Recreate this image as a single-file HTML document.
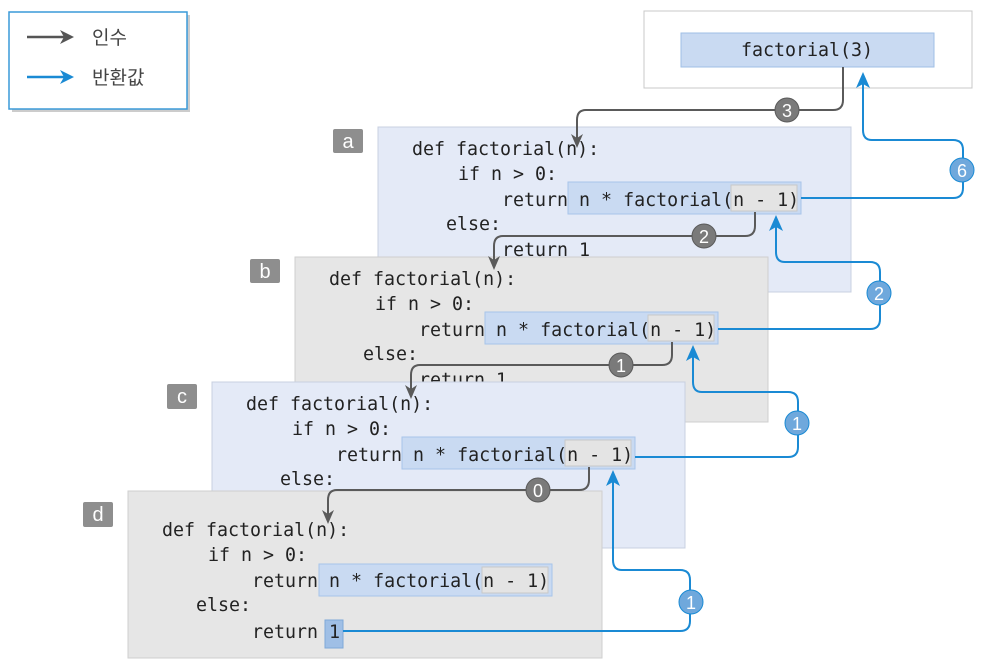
<!DOCTYPE html>
<html><head><meta charset="utf-8"><style>
body{margin:0;width:984px;height:664px;background:#fff;overflow:hidden}
svg text{font-family:"DejaVu Sans Mono","Liberation Mono",monospace;font-size:18.3px;fill:#222}
.k{font-family:"Liberation Sans","Noto Sans CJK KR",sans-serif;font-size:19px;fill:#444}
.lb{font-family:"Liberation Sans",sans-serif;font-size:20px;fill:#fff}
.bt{font-family:"Liberation Sans",sans-serif;font-size:18px;fill:#fff;text-anchor:middle}
</style></head><body>
<svg width="984" height="664" xmlns="http://www.w3.org/2000/svg">
<!-- legend -->
<rect x="12" y="15" width="178" height="97" fill="#ccc"/>
<rect x="9" y="12" width="178" height="97" fill="#fff" stroke="#3a9ad9" stroke-width="1.5"/>
<line x1="27" y1="37" x2="64" y2="37" stroke="#555" stroke-width="2.5"/>
<path d="M60,30 L74,37 L60,44 L64,37 Z" fill="#555"/>
<line x1="27" y1="77" x2="64" y2="77" stroke="#1a8ad4" stroke-width="2.5"/>
<path d="M60,70 L74,77 L60,84 L64,77 Z" fill="#1a8ad4"/>
<text class="k" x="92" y="44">인수</text>
<text class="k" x="92" y="84">반환값</text>
<!-- top box -->
<rect x="644" y="11" width="328" height="77" fill="#fff" stroke="#c8c8c8"/>
<rect x="681" y="33" width="253" height="34" fill="#c9daf2" stroke="#9fbfe6"/>
<text x="807" y="56" text-anchor="middle">factorial(3)</text>

<!-- panel a -->
<rect x="378" y="127" width="473" height="165" fill="#e4eaf7" stroke="#c8d0e0"/>
<rect x="333" y="129" width="30" height="24" rx="2" fill="#8e8e8e"/><text class="lb" x="348" y="148" text-anchor="middle">a</text>
<rect x="568" y="182" width="233" height="32" fill="#c9daf2" stroke="#a7c4ea"/>
<rect x="731" y="185" width="66" height="26" fill="#e4e4e4" stroke="#c8c8c8"/>
<text x="412" y="155">def factorial(n):</text>
<text x="458" y="180">if n &gt; 0:</text>
<text x="502" y="206">return n * factorial(n - 1)</text>
<text x="446" y="230">else:</text>
<text x="502" y="256">return 1</text>

<!-- panel b -->
<rect x="295" y="257" width="473" height="165" fill="#e6e6e6" stroke="#cfcfcf"/>
<rect x="250" y="259" width="30" height="24" rx="2" fill="#8e8e8e"/><text class="lb" x="265" y="278" text-anchor="middle">b</text>
<rect x="485" y="312" width="233" height="32" fill="#c9daf2" stroke="#a7c4ea"/>
<rect x="648" y="315" width="66" height="26" fill="#e4e4e4" stroke="#c8c8c8"/>
<text x="329" y="285">def factorial(n):</text>
<text x="375" y="310">if n &gt; 0:</text>
<text x="419" y="336">return n * factorial(n - 1)</text>
<text x="363" y="360">else:</text>
<text x="419" y="386">return 1</text>

<!-- panel c -->
<rect x="212" y="382" width="473" height="166" fill="#e4eaf7" stroke="#c8d0e0"/>
<rect x="167" y="384" width="30" height="25" rx="2" fill="#8e8e8e"/><text class="lb" x="182" y="403" text-anchor="middle">c</text>
<rect x="402" y="437" width="233" height="32" fill="#c9daf2" stroke="#a7c4ea"/>
<rect x="565" y="440" width="66" height="26" fill="#e4e4e4" stroke="#c8c8c8"/>
<text x="246" y="410">def factorial(n):</text>
<text x="292" y="435">if n &gt; 0:</text>
<text x="336" y="461">return n * factorial(n - 1)</text>
<text x="280" y="485">else:</text>

<!-- panel d -->
<rect x="128" y="491" width="474" height="167" fill="#e6e6e6" stroke="#cfcfcf"/>
<rect x="83" y="502" width="30" height="25" rx="2" fill="#8e8e8e"/><text class="lb" x="98" y="521" text-anchor="middle">d</text>
<rect x="319" y="564" width="233" height="32" fill="#c9daf2" stroke="#a7c4ea"/>
<rect x="482" y="567" width="66" height="26" fill="#e4e4e4" stroke="#c8c8c8"/>
<rect x="325" y="620" width="18" height="28" fill="#9fbfe6" stroke="#7fa8d8"/>
<text x="162" y="536">def factorial(n):</text>
<text x="208" y="561">if n &gt; 0:</text>
<text x="252" y="587">return n * factorial(n - 1)</text>
<text x="196" y="611">else:</text>
<text x="252" y="638">return 1</text>

<!-- gray arrows -->
<g fill="none" stroke="#5a5a5a" stroke-width="2">
<path d="M843,67 V100 Q843,110 833,110 H586 Q577,110 577,120 V140"/>
<path d="M755,212 V226 Q755,236 745,236 H503 Q494,236 494,246 V262"/>
<path d="M672,342 V355 Q672,365 662,365 H420 Q411,365 411,375 V391"/>
<path d="M589,467 V480 Q589,490 579,490 H337 Q328,490 328,500 V516"/>
</g>
<g fill="#5a5a5a">
<path d="M571,134 L577,148 L583,134 L577,138 Z"/>
<path d="M488,256 L494,270 L500,256 L494,260 Z"/>
<path d="M405,385 L411,399 L417,385 L411,389 Z"/>
<path d="M322,510 L328,524 L334,510 L328,514 Z"/>
</g>
<g fill="#7a7a7a" stroke="#5a5a5a" stroke-width="1">
<circle cx="787" cy="110" r="12"/><circle cx="704" cy="236" r="12"/><circle cx="621" cy="365" r="12"/><circle cx="538" cy="490" r="12"/>
</g>
<text class="bt" x="787" y="117">3</text><text class="bt" x="704" y="243">2</text><text class="bt" x="621" y="372">1</text><text class="bt" x="538" y="497">0</text>

<!-- blue arrows -->
<g fill="none" stroke="#1a8ad4" stroke-width="2">
<path d="M343,631 H680 Q690,631 690,621 V580 Q690,570 680,570 H622 Q613,570 613,560 V480"/>
<path d="M635,457 H788 Q798,457 798,447 V402 Q798,392 788,392 H702 Q693,392 693,382 V355"/>
<path d="M718,329 H870 Q880,329 880,319 V272 Q880,262 870,262 H785 Q776,262 776,252 V225"/>
<path d="M801,198 H953 Q963,198 963,188 V150 Q963,140 953,140 H872 Q863,140 863,130 V82"/>
</g>
<g fill="#1a8ad4">
<path d="M606,486 L613,470 L620,486 L613,482 Z"/>
<path d="M686,361 L693,345 L700,361 L693,357 Z"/>
<path d="M769,231 L776,215 L783,231 L776,227 Z"/>
<path d="M856,88 L863,72 L870,88 L863,84 Z"/>
</g>
<g fill="#6fa8dc" stroke="#1a8ad4" stroke-width="1">
<circle cx="691" cy="602" r="12"/><circle cx="797" cy="423" r="12"/><circle cx="879" cy="293" r="12"/><circle cx="962" cy="170" r="12"/>
</g>
<text class="bt" x="691" y="609">1</text><text class="bt" x="797" y="430">1</text><text class="bt" x="879" y="300">2</text><text class="bt" x="962" y="177">6</text>
</svg>
</body></html>
